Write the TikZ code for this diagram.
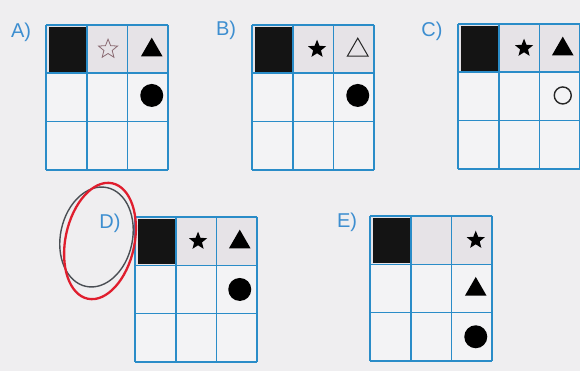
\documentclass[tikz,border=0pt]{standalone}
\usepackage{fontspec}
\setmainfont{Liberation Sans}
\usetikzlibrary{shapes.geometric}
\definecolor{paper}{HTML}{EFEEF0}
\definecolor{cellbg}{HTML}{F3F3F5}
\definecolor{toprow}{HTML}{E6E3E7}
\definecolor{gridblue}{HTML}{2A8CC8}
\definecolor{labelblue}{HTML}{3D8ED0}
\definecolor{penred}{HTML}{E01E2E}
\definecolor{pengrey}{HTML}{4A4E54}
\definecolor{starpink}{HTML}{8A6A72}
\tikzset{
  gridline/.style={draw=gridblue, line width=1.6pt},
  optlabel/.style={font=\fontsize{20}{22}\selectfont, text=labelblue, inner sep=0pt},
  blacksq/.style={fill=black!92},
  fstar/.style={star, star points=5, star point ratio=2.3, fill=black, minimum size=19pt, inner sep=0pt},
  hstar/.style={star, star points=5, star point ratio=2.3, draw=starpink, line width=0.8pt, minimum size=20pt, inner sep=0pt},
  ftri/.style={regular polygon, regular polygon sides=3, fill=black, minimum size=25pt, inner sep=0pt},
  htri/.style={regular polygon, regular polygon sides=3, draw=black!85, line width=1pt, minimum size=24pt, inner sep=0pt},
  fdot/.style={circle, fill=black, minimum size=23pt, inner sep=0pt},
  hdot/.style={circle, draw=black!85, line width=1.4pt, minimum size=17pt, inner sep=0pt},
}
\begin{document}
\begin{tikzpicture}[x=1pt, y=-1pt]
\useasboundingbox (0,0) rectangle (580,371);
\fill[paper] (0,0) rectangle (580,371);
\clip (0,0) rectangle (580,371);
\foreach \n/\gx/\gy in {A/46/25, B/252/25, C/458/24, D/135/217, E/370/216}{
  \fill[cellbg] (\gx,\gy+48.3) rectangle (\gx+122.1,\gy+144.9);
  \fill[toprow] (\gx,\gy) rectangle (\gx+122.1,\gy+48.3);
  \fill[blacksq] (\gx+3,\gy+2) rectangle (\gx+41.5,\gy+47);
  \foreach \c in {1,2,3}{
    \foreach \r in {1,2,3}{
      \coordinate (\n-\c\r) at (\gx+\c*40.7-20.35, \gy+\r*48.3-24.15);
    }
  }
  \foreach \i in {0,1,2,3}{
    \draw[gridline] (\gx+\i*40.7,\gy) -- (\gx+\i*40.7,\gy+144.9);
    \draw[gridline] (\gx,\gy+\i*48.3) -- (\gx+122.1,\gy+\i*48.3);
  }
}
% labels
\node[optlabel] (labA) at (21,32) {A)};
\node[optlabel] (labB) at (226,30) {B)};
\node[optlabel] (labC) at (432,31) {C)};
\node[optlabel] (labD) at (110,223) {D)};
\node[optlabel] (labE) at (347,222) {E)};
% A
\node[hstar, xshift=1pt] (A-star) at (A-21) {};
\node[ftri, xshift=4pt, yshift=-1pt] (A-tri) at (A-31) {};
\node[fdot, xshift=4pt, yshift=2pt] (A-dot) at (A-32) {};
% B
\node[fstar, xshift=4pt] (B-star) at (B-21) {};
\node[htri, xshift=4pt, yshift=-1pt] (B-tri) at (B-31) {};
\node[fdot, xshift=4pt, yshift=2pt] (B-dot) at (B-32) {};
% C
\node[fstar, xshift=5pt] (C-star) at (C-21) {};
\node[ftri, xshift=3pt, yshift=-1pt] (C-tri) at (C-31) {};
\node[hdot, xshift=3pt, yshift=1pt] (C-dot) at (C-32) {};
% D
\node[fstar, xshift=2pt] (D-star) at (D-21) {};
\node[ftri, xshift=3pt, yshift=-1pt] (D-tri) at (D-31) {};
\node[fdot, xshift=3pt] (D-dot) at (D-32) {};
% E
\node[fstar, xshift=4pt] (E-star) at (E-31) {};
\node[ftri, xshift=4pt, yshift=-1pt] (E-tri) at (E-32) {};
\node[fdot, xshift=4pt] (E-dot) at (E-33) {};
% pen marks around D
\draw[pengrey, line width=1.4pt, rotate around={-12:(96.5,237)}] (96.5,237) ellipse [x radius=36, y radius=50.5];
\draw[penred, line width=2.3pt, rotate around={-12:(100,241)}] (100,241) ellipse [x radius=34.5, y radius=59];
\end{tikzpicture}
\end{document}
